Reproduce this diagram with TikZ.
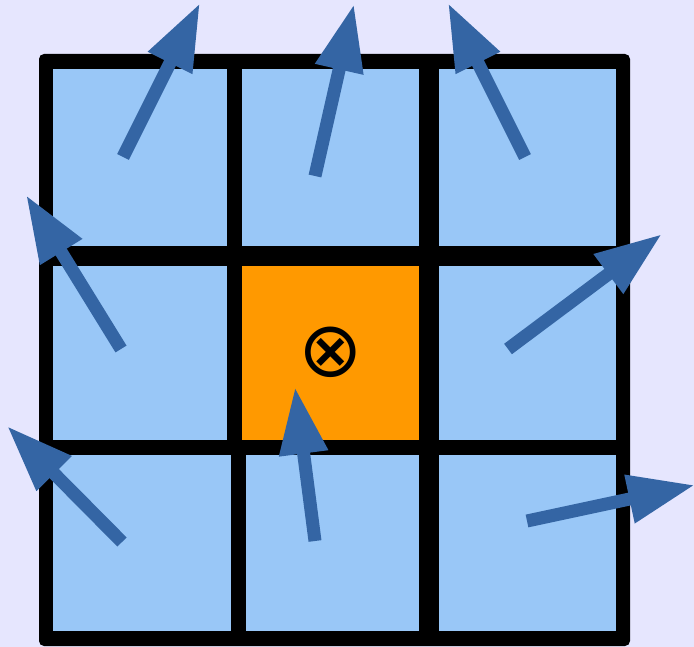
\documentclass[tikz,border=0pt]{standalone}
\usepackage{fontspec}
\newfontfamily\symfont{DejaVu Sans}
\usetikzlibrary{arrows.meta}
\definecolor{bgc}{HTML}{E6E6FE}
\definecolor{cellc}{HTML}{99C7F7}
\definecolor{orangec}{HTML}{FF9900}
\definecolor{arrc}{HTML}{3465A4}
\tikzset{
  cell/.style={fill=cellc, draw=none},
  centercell/.style={fill=orangec, draw=none},
  vec/.style={draw=arrc, line width=13pt, -{Triangle[length=67pt,width=46pt]}, arrc}
}
\begin{document}
\begin{tikzpicture}[x=1pt,y=-1pt]
\fill[bgc] (0,0) rectangle (694,647);
\useasboundingbox (0,0) rectangle (694,647);
% black frame
\fill[black, rounded corners=5pt] (39,54) rectangle (630,646);
% cells
\fill[cell] (53,69) rectangle (227,246);
\fill[cell] (242,69) rectangle (419,246);
\fill[cell] (439,69) rectangle (616,246);
\fill[cell] (53,266) rectangle (227,440);
\fill[centercell] (242,266) rectangle (419,440);
\fill[cell] (439,266) rectangle (616,440);
\fill[cell] (53,455) rectangle (231,631);
\fill[cell] (246,455) rectangle (419,631);
\fill[cell] (439,455) rectangle (616,631);
% symbol
\node[inner sep=0pt, font=\symfont\fontsize{77}{77}\selectfont] (sym) at (330.5,352.5) {⊗};
% arrows
\coordinate (t1) at (123,157); \coordinate (h1) at (200,3);
\coordinate (t2) at (315,176); \coordinate (h2) at (354,4);
\coordinate (t3) at (525,157); \coordinate (h3) at (448,3);
\coordinate (t4) at (121,349); \coordinate (h4) at (26,195);
\coordinate (t5) at (508,349); \coordinate (h5) at (662,234);
\coordinate (t6) at (122,542); \coordinate (h6) at (7,426);
\coordinate (t7) at (315,541); \coordinate (h7) at (295,387);
\coordinate (t8) at (527,521); \coordinate (h8) at (695,485);
\foreach \i in {1,...,8} {\draw[vec] (t\i) -- (h\i);}
\end{tikzpicture}
\end{document}
